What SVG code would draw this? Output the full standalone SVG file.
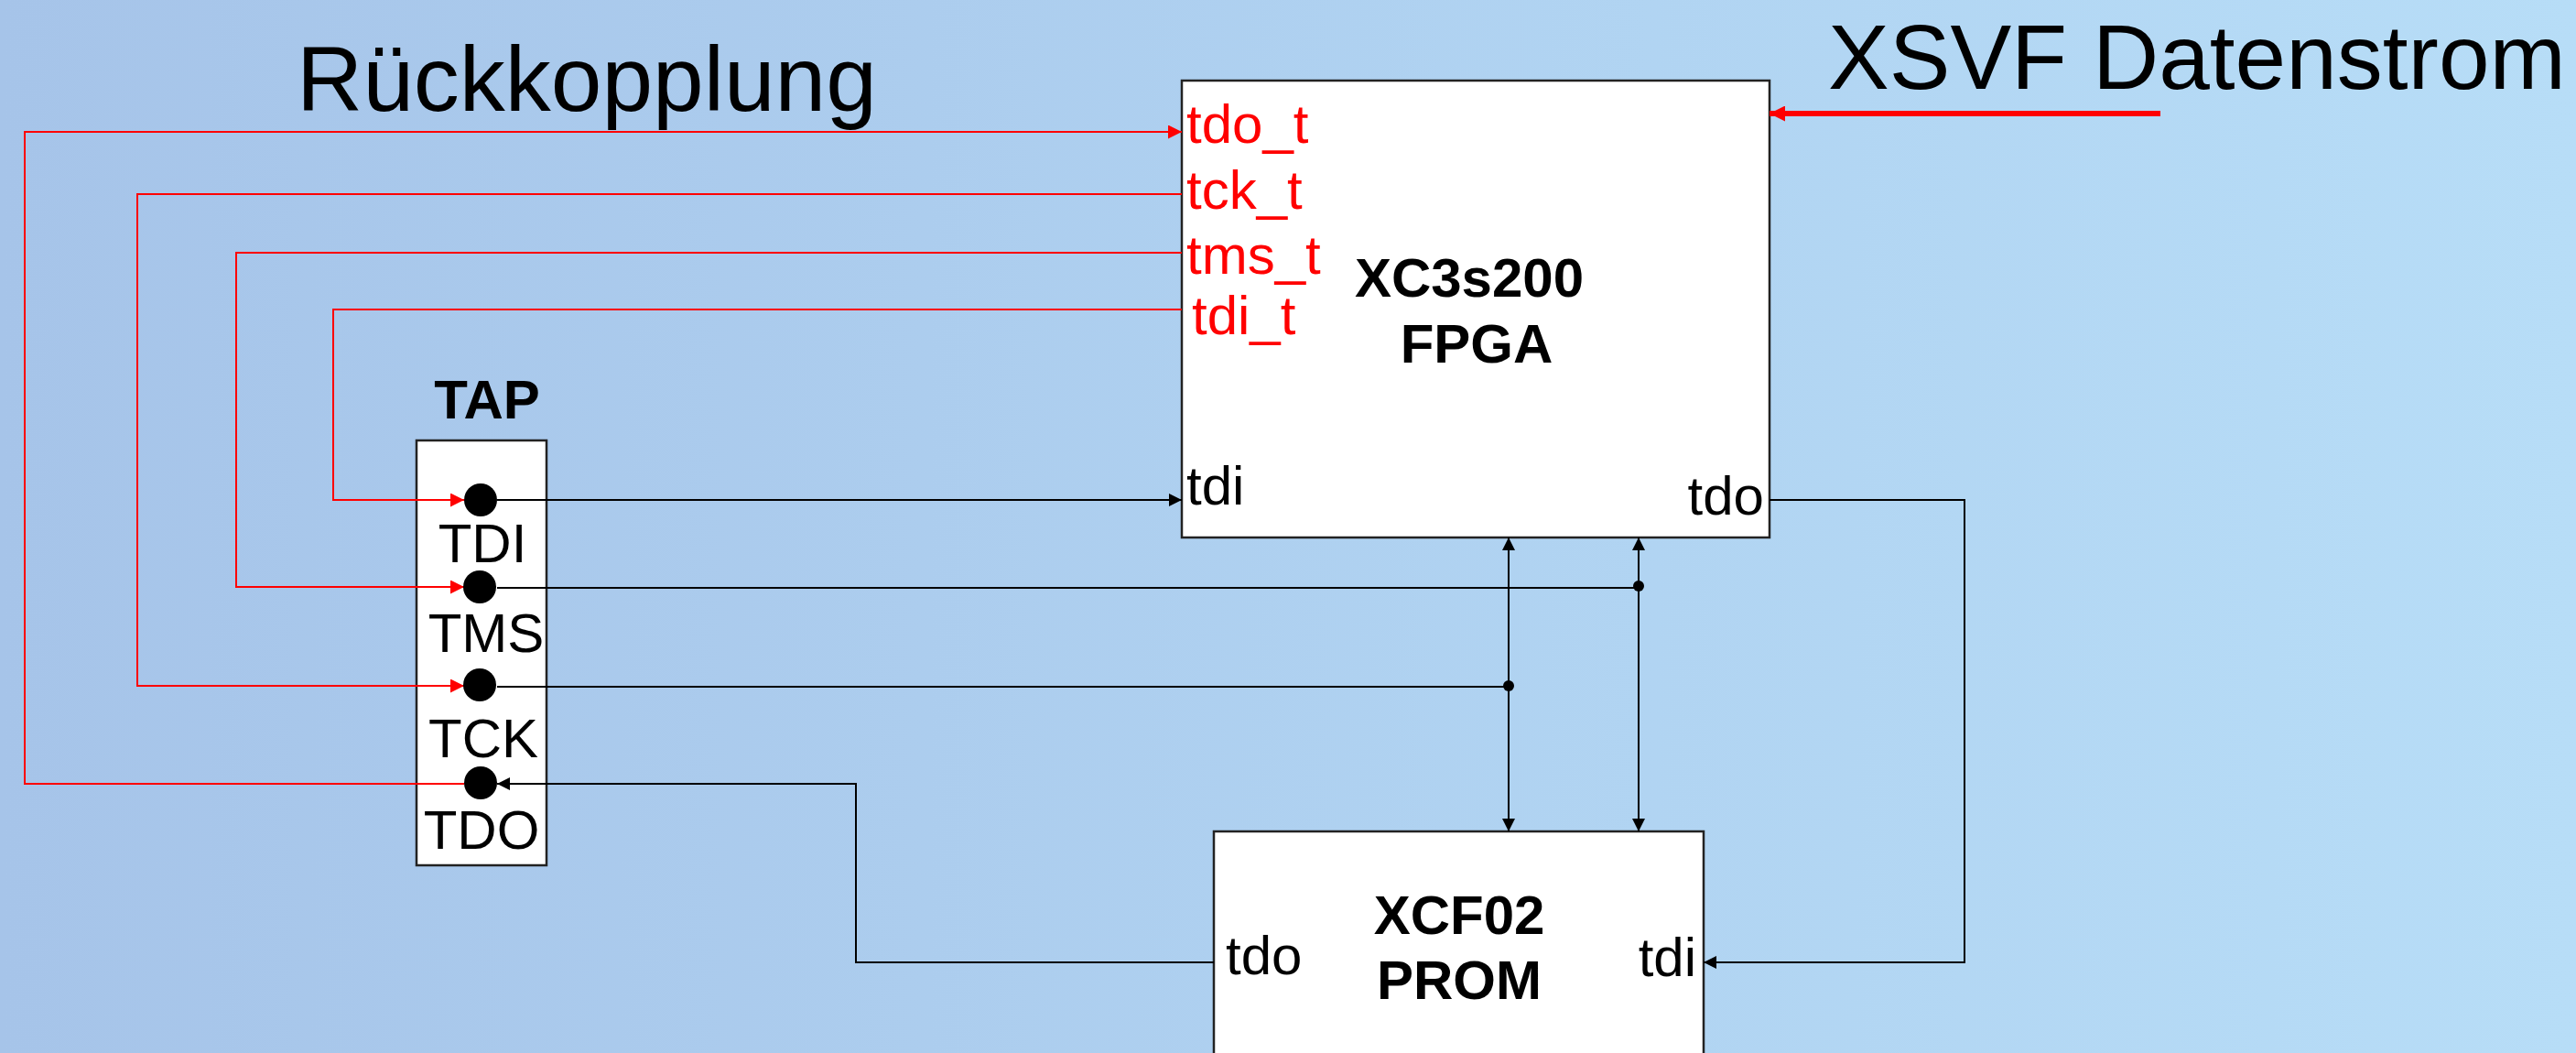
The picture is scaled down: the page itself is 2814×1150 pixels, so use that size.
<svg xmlns="http://www.w3.org/2000/svg" width="2814" height="1150" viewBox="0 0 2814 1150">
<defs>
<linearGradient id="bg" x1="0" y1="0" x2="1" y2="0">
<stop offset="0" stop-color="#a6c4e9"/>
<stop offset="1" stop-color="#b7ddf7"/>
</linearGradient>
<marker id="ab" markerUnits="userSpaceOnUse" markerWidth="14" markerHeight="14" refX="14" refY="7" orient="auto"><path d="M0,0 L14,7 L0,14 z" fill="#000"/></marker>
<marker id="abs" markerUnits="userSpaceOnUse" markerWidth="14" markerHeight="14" refX="14" refY="7" orient="auto-start-reverse"><path d="M0,0 L14,7 L0,14 z" fill="#000"/></marker>
<marker id="ar" markerUnits="userSpaceOnUse" markerWidth="15" markerHeight="15" refX="15" refY="7.5" orient="auto"><path d="M0,0 L15,7.5 L0,15 z" fill="#ff0000"/></marker>
<marker id="arb" markerUnits="userSpaceOnUse" markerWidth="17" markerHeight="17" refX="17" refY="8.5" orient="auto"><path d="M0,0 L17,8.5 L0,17 z" fill="#ff0000"/></marker>
</defs>
<style>
.box{fill:#fff;stroke:#222;stroke-width:2.5}
.blk{fill:none;stroke:#000;stroke-width:2}
.red{fill:none;stroke:#ff0000;stroke-width:2}
.t{font-family:"Liberation Sans",Arial,sans-serif;font-size:60px;fill:#000}
.tr{font-family:"Liberation Sans",Arial,sans-serif;font-size:60px;fill:#ff0000}
.tb{font-family:"Liberation Sans",Arial,sans-serif;font-size:60px;font-weight:bold;fill:#000;text-anchor:middle}
.tl{font-family:"Liberation Sans",Arial,sans-serif;font-size:100px;fill:#000}
.pin{fill:#000}
</style>
<rect x="0" y="0" width="2814" height="1150" fill="url(#bg)"/>
<text class="tl" x="324" y="121">Rückkopplung</text>
<text class="tl" x="1997" y="97">XSVF Datenstrom</text>
<g id="fpga">
<rect class="box" x="1291" y="88" width="642" height="499"/>
<text class="tr" x="1296" y="156">tdo_t</text>
<text class="tr" x="1296" y="228">tck_t</text>
<text class="tr" x="1296" y="299">tms_t</text>
<text class="tr" x="1302" y="365">tdi_t</text>
<text class="tb" x="1605" y="324">XC3s200</text>
<text class="tb" x="1613" y="396">FPGA</text>
<text class="t" x="1296" y="551">tdi</text>
<text class="t" x="1927" y="562" text-anchor="end">tdo</text>
</g>
<g id="tap">
<text class="tb" x="532" y="457">TAP</text>
<rect class="box" x="455" y="481" width="142" height="464"/>
<text class="t" x="527" y="614" text-anchor="middle">TDI</text>
<text class="t" x="531" y="712" text-anchor="middle">TMS</text>
<text class="t" x="528" y="827" text-anchor="middle">TCK</text>
<text class="t" x="526" y="927" text-anchor="middle">TDO</text>
</g>
<g id="prom">
<rect class="box" x="1326" y="908" width="535" height="260"/>
<text class="tb" x="1594" y="1020">XCF02</text>
<text class="tb" x="1594" y="1091">PROM</text>
<text class="t" x="1339" y="1064">tdo</text>
<text class="t" x="1853" y="1066" text-anchor="end">tdi</text>
</g>
<g id="connectors">
<path class="red" d="M507,856 H27 V144 H1291" marker-end="url(#ar)"/>
<path class="red" d="M1291,212 H150 V749 H507" marker-end="url(#ar)"/>
<path class="red" d="M1291,276 H258 V641 H507" marker-end="url(#ar)"/>
<path class="red" d="M1291,338 H364 V546 H507" marker-end="url(#ar)"/>
<path class="blk" d="M543,546 H1291" marker-end="url(#ab)"/>
<path class="blk" d="M543,642 H1790"/>
<path class="blk" d="M543,750 H1648"/>
<path class="blk" d="M1648,587 V908" marker-start="url(#abs)" marker-end="url(#abs)"/>
<path class="blk" d="M1790,587 V908" marker-start="url(#abs)" marker-end="url(#abs)"/>
<path class="blk" d="M1933,546 H2146 V1051 H1861" marker-end="url(#ab)"/>
<path class="blk" d="M1326,1051 H935 V856 H543" marker-end="url(#ab)"/>
<path fill="none" stroke="#ff0000" stroke-width="6" d="M2360,124 H1933" marker-end="url(#arb)"/>
<circle class="pin" cx="1790" cy="640" r="6"/>
<circle class="pin" cx="1648" cy="749" r="6"/>
</g>
<g id="pins">
<circle class="pin" cx="525" cy="546" r="18"/>
<circle class="pin" cx="524" cy="641" r="18"/>
<circle class="pin" cx="524" cy="748" r="18"/>
<circle class="pin" cx="525" cy="855" r="18"/>
</g>
</svg>
